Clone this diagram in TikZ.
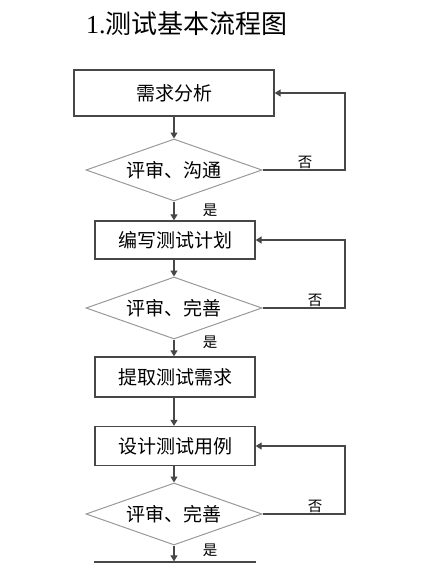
\documentclass[tikz,border=0pt]{standalone}
\usepackage{fontspec}
\setmainfont{Noto Sans CJK SC}
\newfontfamily\latinserif{Liberation Serif}
\usetikzlibrary{shapes.geometric,arrows.meta}
\begin{document}
\begin{tikzpicture}[x=1pt,y=-1pt,
  box/.style={draw=black!72, line width=1.3pt, inner sep=0pt, font=\fontsize{19}{19}\selectfont},
  dec/.style={draw=black!40, line width=1pt, shape=diamond, aspect=2.84, inner sep=0pt, minimum width=176pt, minimum height=62pt, font=\fontsize{19}{19}\selectfont},
  flow/.style={draw=black!72, line width=1.2pt, -{Triangle[width=7pt,length=6pt]}},
  lbl/.style={font=\fontsize{14.5}{14.5}\selectfont, inner sep=0pt}]
\useasboundingbox (0,0) rectangle (426,563);
\clip (0,0) rectangle (426,563);
\node[inner sep=0pt, anchor=west, font=\fontsize{26}{26}\selectfont] (title) at (86,24) {{\latinserif 1.}测试基本流程图};
\node[box, minimum width=200pt, minimum height=46pt] (b1) at (174,93) {需求分析};
\node[dec] (d1) at (174,170) {评审、沟通};
\node[box, minimum width=160pt, minimum height=38pt] (b2) at (175,240) {编写测试计划};
\node[dec] (d2) at (174,308) {评审、完善};
\node[box, minimum width=160pt, minimum height=40pt] (b3) at (175,377) {提取测试需求};
\node[box, minimum width=160pt, minimum height=39pt] (b4) at (175,446) {设计测试用例};
\node[dec] (d3) at (174,514) {评审、完善};
\node[box, minimum width=160pt, minimum height=40pt] (b5) at (175,582) {};
\coordinate (c1) at (345,170);
\coordinate (c2) at (345,308);
\coordinate (c3) at (345,514);
\draw[flow] (b1.south -| d1.north) -- (d1.north);
\draw[flow] (d1.south) -- (d1.south |- b2.north);
\draw[flow] (b2.south -| d2.north) -- (d2.north);
\draw[flow] (d2.south) -- (d2.south |- b3.north);
\draw[flow] (b3.south -| d2.north) -- (d2.north |- b4.north);
\draw[flow] (b4.south -| d3.north) -- (d3.north);
\draw[flow] (d3.south) -- (d3.south |- b5.north);
\draw[flow] (d1.east) -- (c1) |- (b1.east);
\draw[flow] (d2.east) -- (c2) |- (b2.east);
\draw[flow] (d3.east) -- (c3) |- (b4.east);
\node[lbl] (n1) at (305,162) {否};
\node[lbl] (n2) at (315,300) {否};
\node[lbl] (n3) at (315,506) {否};
\node[lbl] (y1) at (210,210) {是};
\node[lbl] (y2) at (210,342) {是};
\node[lbl] (y3) at (210,550) {是};
\end{tikzpicture}
\end{document}
